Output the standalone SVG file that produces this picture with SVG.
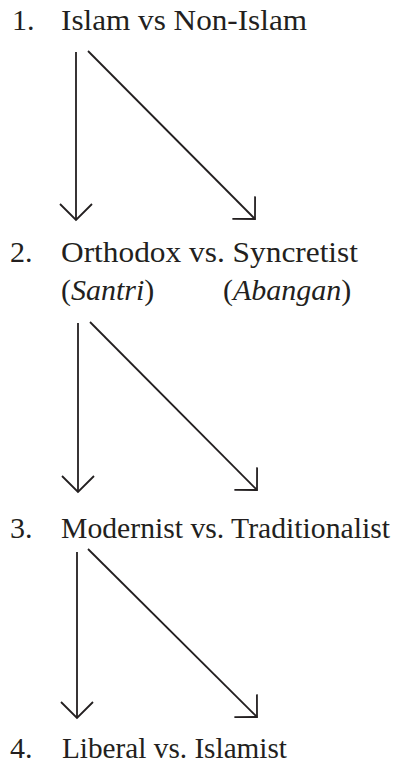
<svg xmlns="http://www.w3.org/2000/svg" width="405" height="763" viewBox="0 0 405 763">
  <style>
    .t { font-size: 30px; fill: #231f20; }
    .i { font-style: italic; }
    .c { stroke: #231f20; stroke-width: 1.8; fill: none; marker-end: url(#arr); }
  </style>
  <defs>
    <marker id="arr" markerUnits="userSpaceOnUse" markerWidth="40" markerHeight="40" refX="0" refY="0" orient="auto" overflow="visible">
      <path d="M-16,-16 L0,0 L-16,16" fill="none" stroke="#231f20" stroke-width="1.8" stroke-linejoin="miter"/>
    </marker>
  </defs>
  <rect width="405" height="763" fill="#ffffff"/>
  <g font-family="Liberation Serif, serif">
    <g id="node1">
      <text class="t" x="12" y="30">1.</text>
      <text class="t" x="61" y="30" textLength="246" lengthAdjust="spacingAndGlyphs">Islam vs Non-Islam</text>
    </g>
    <g id="node2">
      <text class="t" x="10" y="262">2.</text>
      <text class="t" x="61" y="262" textLength="297" lengthAdjust="spacingAndGlyphs">Orthodox vs. Syncretist</text>
      <text class="t" x="61" y="300">(<tspan class="i">Santri</tspan>)</text>
      <text class="t" x="223" y="300">(<tspan class="i">Abangan</tspan>)</text>
    </g>
    <g id="node3">
      <text class="t" x="10" y="538">3.</text>
      <text class="t" x="61" y="538" textLength="329" lengthAdjust="spacingAndGlyphs">Modernist vs. Traditionalist</text>
    </g>
    <g id="node4">
      <text class="t" x="10" y="758">4.</text>
      <text class="t" x="62" y="758" textLength="225" lengthAdjust="spacingAndGlyphs">Liberal vs. Islamist</text>
    </g>
  </g>
  <g id="connectors">
    <line class="c" x1="76" y1="52" x2="76" y2="220"/>
    <line class="c" x1="88" y1="51" x2="255" y2="219"/>
    <line class="c" x1="78" y1="323" x2="78" y2="492"/>
    <line class="c" x1="90" y1="322" x2="257" y2="490"/>
    <line class="c" x1="77" y1="552" x2="77" y2="718"/>
    <line class="c" x1="88" y1="549" x2="257" y2="717"/>
  </g>
</svg>
